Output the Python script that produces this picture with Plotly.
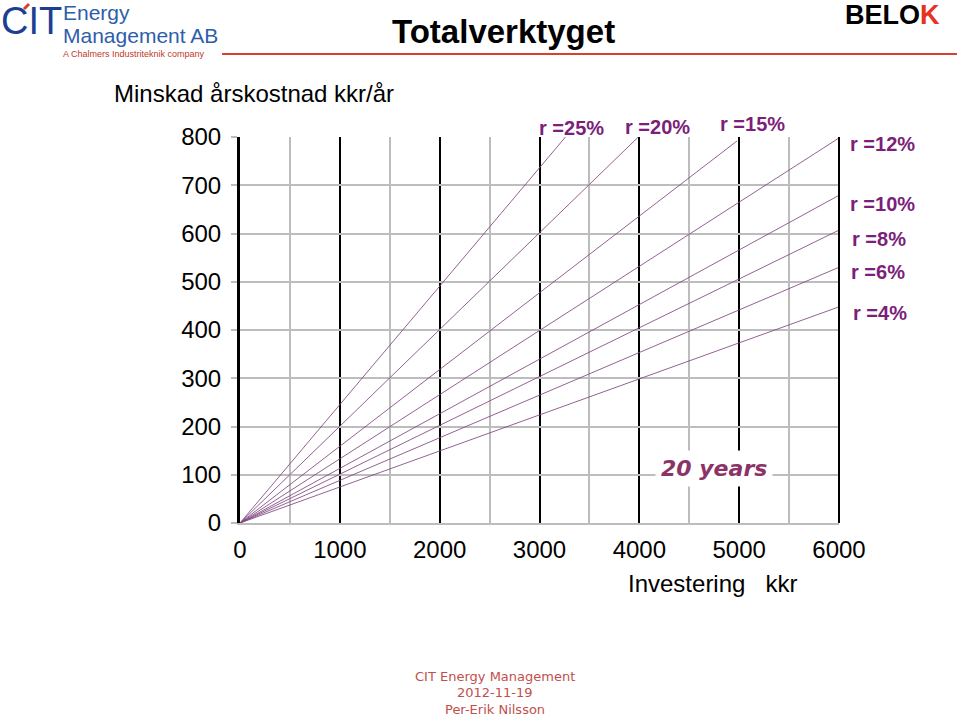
import plotly.graph_objects as go

# ---- data ----
rate_labels = ["r =25%", "r =20%", "r =15%", "r =12%", "r =10%", "r =8%", "r =6%", "r =4%"]
end_x = [3260, 3990, 4980, 6000, 5990, 6000, 6000, 6000]
end_y = [800, 800, 792, 798, 678, 607, 530, 448]
label_x = [3316, 4177, 5129, 6431, 6431, 6401, 6391, 6411]
label_y = [819, 821, 827, 785, 661, 589, 520, 435]

x_ticks = [0, 1000, 2000, 3000, 4000, 5000, 6000]
x_minor = [500, 1500, 2500, 3500, 4500, 5500]
y_ticks = [0, 100, 200, 300, 400, 500, 600, 700, 800]
X_MAX, Y_MAX = 6000, 800

title = "Totalverktyget"
y_title = "Minskad årskostnad kkr/år"
x_title = "Investering\u00a0\u00a0\u00a0kkr"
years_label = "20 years"
footer = ["CIT Energy Management", "2012-11-19", "Per-Erik Nilsson"]

ARIAL = "Liberation Sans, Arial, sans-serif"
COMIC = "Comic Sans MS, DejaVu Sans, sans-serif"
PURPLE = "#7B1F7B"
LINE = "rgba(128,70,128,0.85)"
GRID = "#BDBDBD"

fig = go.Figure()
for lab, ex, ey in zip(rate_labels, end_x, end_y):
    fig.add_trace(go.Scatter(x=[0, ex], y=[0, ey], mode="lines",
                             line=dict(color=LINE, width=1), name=lab,
                             showlegend=False, hoverinfo="skip"))

W, H = 959, 717
L, R, T, B = 240, 839, 137, 523

fig.update_layout(
    width=W, height=H, autosize=False,
    margin=dict(l=L, r=W - R, t=T, b=H - B, pad=0),
    paper_bgcolor="white", plot_bgcolor="white",
    showlegend=False,
    font=dict(family=ARIAL, color="black"),
)
fig.update_xaxes(
    range=[0, X_MAX], tickmode="array", tickvals=x_ticks,
    ticktext=[str(v) for v in x_ticks],
    showgrid=True, gridcolor="black", gridwidth=2,
    minor=dict(tickmode="array", tickvals=x_minor, showgrid=True,
               gridcolor=GRID, gridwidth=1.5),
    zeroline=False, showline=True, linecolor=GRID, linewidth=1.5,
    ticks="", ticklabelstandoff=4,
    tickfont=dict(family=ARIAL, size=24, color="black"),
    fixedrange=True,
)
fig.update_yaxes(
    range=[0, Y_MAX], tickmode="array", tickvals=y_ticks,
    showgrid=True, gridcolor=GRID, gridwidth=1.5,
    zeroline=False, showline=True, linecolor="black", linewidth=3,
    mirror=False,
    ticks="outside", ticklen=6, tickcolor=GRID, tickwidth=1.5,
    ticklabelstandoff=5,
    tickfont=dict(family=ARIAL, size=24, color="black"),
    fixedrange=True,
)

# right-hand black border at 6000
fig.add_shape(type="line", xref="paper", yref="y", x0=1, x1=1, y0=0, y1=Y_MAX,
              line=dict(color="black", width=2), layer="above")

# rate labels (placed in paper units derived from data values, as they lie outside the axes)
for lab, lx, ly in zip(rate_labels, label_x, label_y):
    fig.add_annotation(x=lx / X_MAX, y=ly / Y_MAX, xref="paper", yref="paper", text=lab,
                       showarrow=False,
                       font=dict(family=ARIAL, size=20, color=PURPLE, weight="bold"),
                       xanchor="center", yanchor="middle")

# 20 years
fig.add_annotation(x=4750, y=114, xref="x", yref="y", text=years_label, showarrow=False,
                   font=dict(family=COMIC, size=22, color="#8B3366", weight="bold", style="italic"),
                   bgcolor="white", borderpad=5, xanchor="center", yanchor="middle")


def px(xp, yp):
    # page pixels -> paper (plot-area) units
    return (xp - L) / (R - L), (B - yp) / (B - T)


# title
x, y = px(503, 32)
fig.add_annotation(x=x, y=y, xref="paper", yref="paper", text=title, showarrow=False,
                   font=dict(family=ARIAL, size=33, color="black", weight="bold"),
                   xanchor="center", yanchor="middle")
# axis titles
x, y = px(112, 93)
fig.add_annotation(x=x, y=y, xref="paper", yref="paper", text=y_title, showarrow=False,
                   font=dict(family=ARIAL, size=24, color="black"),
                   xanchor="left", yanchor="middle")
x, y = px(626, 583)
fig.add_annotation(x=x, y=y, xref="paper", yref="paper", text=x_title, showarrow=False,
                   font=dict(family=ARIAL, size=24, color="black"),
                   xanchor="left", yanchor="middle")

# footer
for i, t in enumerate(footer):
    x, y = px(495, 676 + i * 16.5)
    fig.add_annotation(x=x, y=y, xref="paper", yref="paper", text=t, showarrow=False,
                       font=dict(family=COMIC, size=13, color="#C0504D"),
                       xanchor="center", yanchor="middle")

# logos
x, y = px(0, 21)
fig.add_annotation(x=x, y=y, xref="paper", yref="paper", text="CIT", showarrow=False,
                   font=dict(family=ARIAL, size=38, color="#1C3F94"),
                   xanchor="left", yanchor="middle", borderpad=0)
x, y = px(61, 13)
fig.add_annotation(x=x, y=y, xref="paper", yref="paper", text="Energy", showarrow=False,
                   font=dict(family=ARIAL, size=21, color="#2E5EAA"),
                   xanchor="left", yanchor="middle")
x, y = px(61, 36)
fig.add_annotation(x=x, y=y, xref="paper", yref="paper", text="Management AB", showarrow=False,
                   font=dict(family=ARIAL, size=21, color="#2E5EAA"),
                   xanchor="left", yanchor="middle")
x, y = px(61, 54)
fig.add_annotation(x=x, y=y, xref="paper", yref="paper", text="A Chalmers Industriteknik company",
                   showarrow=False, font=dict(family=ARIAL, size=9, color="#C0392B"),
                   xanchor="left", yanchor="middle")
x, y = px(843, 15)
fig.add_annotation(x=x, y=y, xref="paper", yref="paper",
                   text="BELO<span style='color:#E53322'>K</span>", showarrow=False,
                   font=dict(family=ARIAL, size=27, color="black", weight="bold"),
                   xanchor="left", yanchor="middle")
# red rule under header
x0, y0 = px(222, 54)
x1, _ = px(957, 54)
fig.add_shape(type="line", xref="paper", yref="paper", x0=x0, x1=x1, y0=y0, y1=y0,
              line=dict(color="#D9412E", width=2))
# red accent on the CIT "I"
ax0, ay0 = px(24, 9)
ax1, ay1 = px(29, 4)
fig.add_shape(type="line", xref="paper", yref="paper", x0=ax0, x1=ax1, y0=ay0, y1=ay1,
              line=dict(color="#D9412E", width=3))

fig.write_html("out.html")
